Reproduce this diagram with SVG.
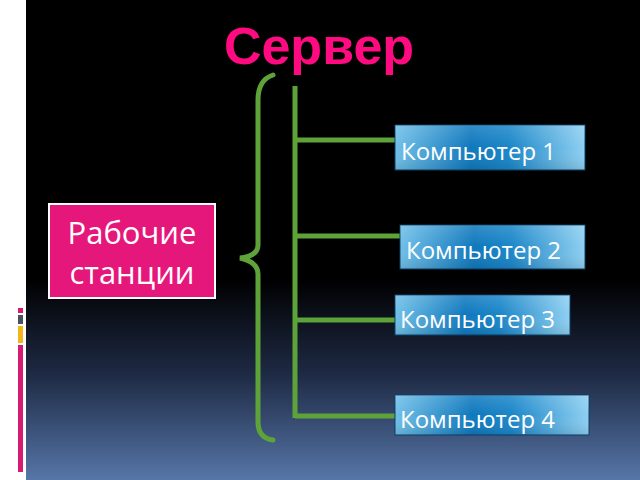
<svg xmlns="http://www.w3.org/2000/svg" width="640" height="480" viewBox="0 0 640 480">
<defs>
<linearGradient id="bg" x1="0" y1="0" x2="0" y2="1">
<stop offset="0" stop-color="#000"/>
<stop offset="0.58" stop-color="#000"/>
<stop offset="0.78" stop-color="#1e2a44"/>
<stop offset="1" stop-color="#5676a8"/>
</linearGradient>
<linearGradient id="box" x1="0" y1="0" x2="1" y2="0">
<stop offset="0" stop-color="#6fbfe8"/>
<stop offset="0.4" stop-color="#0f78bd"/>
<stop offset="0.6" stop-color="#1a86c8"/>
<stop offset="1" stop-color="#8fd0f2"/>
</linearGradient>
<linearGradient id="boxv" x1="0" y1="0" x2="0" y2="1">
<stop offset="0" stop-color="#ffffff" stop-opacity="0.15"/>
<stop offset="0.5" stop-color="#ffffff" stop-opacity="0"/>
<stop offset="1" stop-color="#000" stop-opacity="0.1"/>
</linearGradient>
<style>
.comp rect.f{fill:url(#box);stroke:#0d3f66;stroke-width:1}
.comp rect.s{fill:url(#boxv)}
.comp text{font-family:"Open Sans","Noto Sans",sans-serif;font-size:24px;fill:#fff}
.con{stroke:#5ea33a;stroke-width:5;fill:none;stroke-linecap:round}
</style>
</defs>
<rect x="0" y="0" width="640" height="480" fill="url(#bg)"/>
<rect x="0" y="0" width="26" height="480" fill="#fff"/>
<rect x="18" y="308" width="5" height="5" fill="#d81b72"/>
<rect x="18" y="315" width="5" height="9" fill="#4a5060"/>
<rect x="18" y="326" width="5" height="17" fill="#f2b51c"/>
<rect x="18" y="345" width="5" height="127" fill="#d81b72"/>

<g id="title"><text x="319" y="64" text-anchor="middle" font-family="Liberation Sans,Arial,sans-serif" font-weight="bold" font-size="52" fill="#ff0a80">Сервер</text></g>

<g id="connectors">
<path class="con" d="M273,75 Q258,80 258,100 L258,245 Q258,256 240,258 Q258,262 258,274 L258,422 Q258,438 273,440"/>
<path class="con" d="M295,86 L295,418" style="stroke-linecap:butt"/>
<path class="con" d="M295,140 L396,140 M295,236 L400,236 M295,320 L396,320 M295,416 L396,416" style="stroke-linecap:butt"/>
</g>

<g id="workstations">
<rect x="49" y="204" width="166" height="94" fill="#e6177b" stroke="#fff" stroke-width="2"/>
<text x="132" y="244" text-anchor="middle" font-family="Open Sans,Noto Sans,sans-serif" font-size="31" fill="#fff">Рабочие</text>
<text x="132" y="284" text-anchor="middle" font-family="Open Sans,Noto Sans,sans-serif" font-size="31" fill="#fff">станции</text>
</g>

<g id="comp1" class="comp"><rect class="f" x="395" y="125" width="190" height="45"/><rect class="s" x="395" y="125" width="190" height="45"/><text x="401" y="160">Компьютер 1</text></g>
<g id="comp2" class="comp"><rect class="f" x="400" y="225" width="185" height="44"/><rect class="s" x="400" y="225" width="185" height="44"/><text x="406" y="259">Компьютер 2</text></g>
<g id="comp3" class="comp"><rect class="f" x="395" y="295" width="175" height="40"/><rect class="s" x="395" y="295" width="175" height="40"/><text x="400" y="328">Компьютер 3</text></g>
<g id="comp4" class="comp"><rect class="f" x="395" y="395" width="194" height="40"/><rect class="s" x="395" y="395" width="194" height="40"/><text x="400" y="428">Компьютер 4</text></g>
</svg>
